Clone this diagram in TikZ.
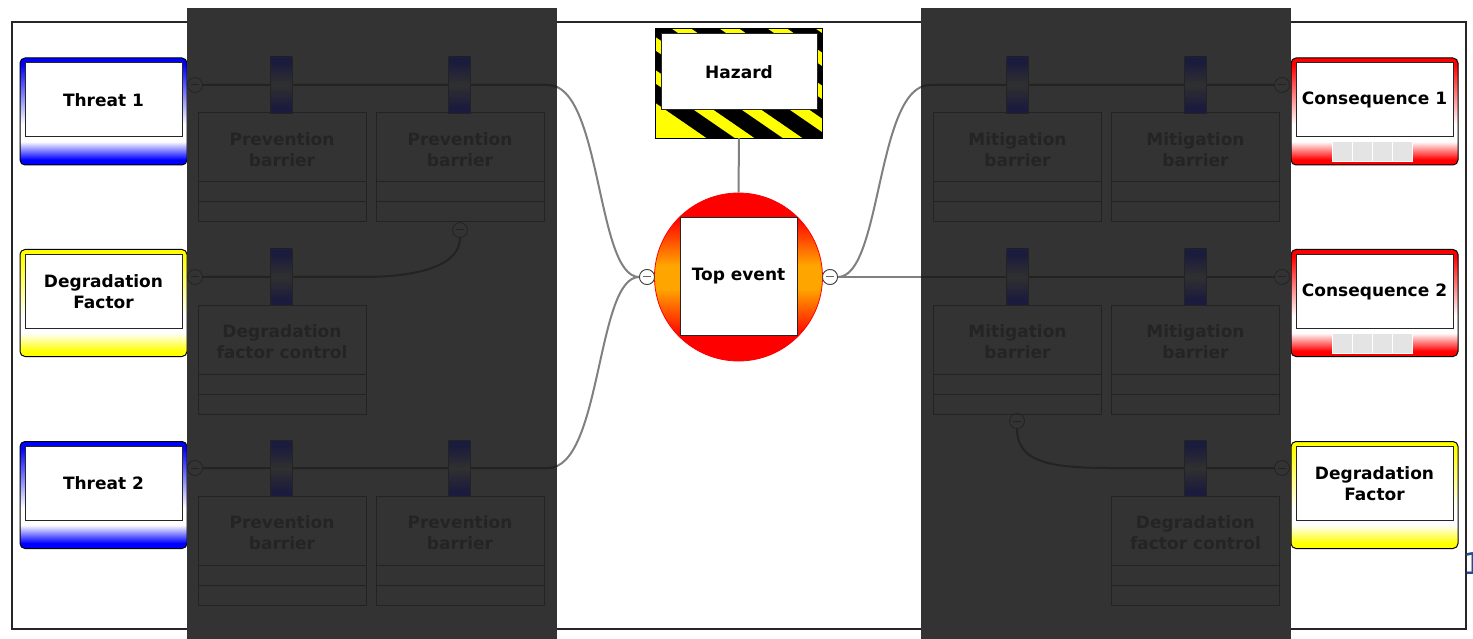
\documentclass[tikz,border=0pt]{standalone}
\usepackage{fontspec}
\setmainfont{DejaVu Sans}
\definecolor{panel}{HTML}{333333}
\definecolor{dk}{HTML}{232323}
\definecolor{dktext}{HTML}{242424}
\definecolor{navyd}{HTML}{1B1B3D}
\definecolor{tabmid}{HTML}{303030}
\definecolor{conn}{HTML}{808080}
\definecolor{hzy}{HTML}{FFFF00}
\definecolor{orng}{HTML}{FFA500}
\definecolor{oneblue}{HTML}{2A4A8F}
\definecolor{framec}{HTML}{262626}
\definecolor{barsq}{HTML}{E4E4E4}
\pgfdeclareverticalshading{threatsh}{100bp}{color(0bp)=(blue); color(27.5bp)=(blue); color(36bp)=(white); color(44bp)=(white); color(72bp)=(blue); color(100bp)=(blue)}
\pgfdeclareverticalshading{degsh}{100bp}{color(0bp)=(hzy); color(27.5bp)=(hzy); color(36bp)=(white); color(44bp)=(white); color(72bp)=(hzy); color(100bp)=(hzy)}
\pgfdeclareverticalshading{conssh}{100bp}{color(0bp)=(red); color(27.5bp)=(red); color(36bp)=(white); color(44bp)=(white); color(72bp)=(red); color(100bp)=(red)}
\pgfdeclareverticalshading{topsh}{100bp}{color(0bp)=(red); color(32.5bp)=(red); color(46.5bp)=(orng); color(53.5bp)=(orng); color(67.5bp)=(red); color(100bp)=(red)}
\pgfdeclareverticalshading{tabsh}{100bp}{color(0bp)=(navyd); color(30bp)=(navyd); color(50bp)=(tabmid); color(70bp)=(navyd); color(100bp)=(navyd)}
\tikzset{
  lbl/.style={font=\bfseries\fontsize{17}{21}\selectfont, align=center, inner sep=0pt},
  sidebox/.style={draw=black, line width=1pt, rounded corners=5pt, minimum width=167pt, minimum height=107pt, inner sep=0pt, shade, shading=#1},
  whitebox/.style={lbl, draw=black!85, line width=1pt, fill=white, minimum width=157pt, minimum height=74pt},
  barsquare/.style={draw=white, line width=0.8pt, fill=barsq, minimum width=20pt, minimum height=20pt, inner sep=0pt},
  conline/.style={draw=conn, line width=2pt},
  dkline/.style={draw=dk, line width=2pt},
  minusw/.style={circle, draw=black!75, fill=white, line width=0.8pt, minimum size=15pt, inner sep=0pt,
    path picture={\draw[black!60, line width=1pt] ([xshift=-4pt]path picture bounding box.center) -- ([xshift=4pt]path picture bounding box.center);}},
  minusd/.style={circle, draw=dk, fill=panel, line width=0.8pt, minimum size=15pt, inner sep=0pt,
    path picture={\draw[dk, line width=1pt] ([xshift=-4pt]path picture bounding box.center) -- ([xshift=4pt]path picture bounding box.center);}},
  tabbox/.style={draw=dk, line width=0.8pt, minimum width=22pt, minimum height=56pt, inner sep=0pt, shade, shading=tabsh},
  barrier/.style={draw=dk, line width=1pt, minimum width=168pt, minimum height=109pt, inner sep=0pt,
    path picture={
      \draw[dk, line width=1pt] ([yshift=-69pt]path picture bounding box.north west) -- ([yshift=-69pt]path picture bounding box.north east);
      \draw[dk, line width=1pt] ([yshift=-89pt]path picture bounding box.north west) -- ([yshift=-89pt]path picture bounding box.north east);}},
  btext/.style={lbl, text=dktext},
}
\newcommand\pathA{(mt1) -- (548,85) .. controls (602,85) and (596,277) .. (tel)}
\newcommand\pathB{(mt2) -- (548,468) .. controls (602,468) and (596,277) .. (tel)}
\newcommand\pathC{(md1) -- (362,277) .. controls (428,277) and (460,262) .. (mb2)}
\newcommand\pathD{(ter) .. controls (882,277) and (876,85) .. (930,85) -- (mc1)}
\newcommand\pathE{(ter) -- (mc2)}
\newcommand\pathF{(mm3) .. controls (1017,462) and (1050,468) .. (1110,468) -- (mc3)}
\begin{document}
\begin{tikzpicture}[x=1pt,y=-1pt]
\useasboundingbox (0,0) rectangle (1473,639);
\fill[white] (0,0) rectangle (1473,639);
% frame
\draw[framec, line width=1.6pt] (12,22) rectangle (1466,629);

% minus circles (placed first so connectors can reference them)
\node[minusd] (mt1) at (195,85) {};
\node[minusd] (md1) at (195,277) {};
\node[minusd] (mt2) at (195,468) {};
\node[minusd] (mb2) at (460,230) {};
\node[minusd] (mc1) at (1282,85) {};
\node[minusd] (mc2) at (1282,277) {};
\node[minusd] (mc3) at (1282,468) {};
\node[minusd] (mm3) at (1017,421) {};
\node[minusw] (tel) at (647,277) {};
\node[minusw] (ter) at (830,277) {};

% top event and hazard
\node[circle, draw=red, line width=0.8pt, minimum size=168pt, inner sep=0pt, shade, shading=topsh] (top) at (738.5,277) {};
\node[whitebox, minimum width=117pt, minimum height=117pt] (topin) at (738.5,276.5) {Top event};

\node[minimum width=167pt, minimum height=109pt, inner sep=0pt, fill=hzy] (hazard) at (739,83.5) {};
\begin{scope}
  \clip (hazard.south west) rectangle (hazard.north east);
  \foreach \k in {0,...,8} {
    \fill[black] (548+48*\k,29) -- (576+48*\k,29) -- (576+48*\k+160,139) -- (548+48*\k+160,139) -- cycle;
  }
\end{scope}
\draw[black, line width=1pt] (hazard.south west) rectangle (hazard.north east);
\node[whitebox, minimum width=156pt, minimum height=76pt] (hazin) at (739,72) {Hazard};
\draw[conline] (hazard.south) -- (top.north);

% gray connectors
\draw[conline] \pathA;
\draw[conline] \pathB;
\draw[conline] \pathD;
\draw[conline] \pathE;
\node[minusw] at (tel) {};
\node[minusw] at (ter) {};

% side boxes
\node[sidebox=threatsh] (t1) at (103.5,111.5) {};
\node[whitebox] (t1in) at (103.5,100) {Threat 1};
\node[sidebox=degsh] (d1) at (103.5,303) {};
\node[whitebox] (d1in) at (103.5,291.5) {Degradation\\Factor};
\node[sidebox=threatsh] (t2) at (103.5,495) {};
\node[whitebox] (t2in) at (103.5,483.5) {Threat 2};

\node[sidebox=conssh] (c1) at (1374.5,111.5) {};
\node[whitebox] (c1in) at (1374.5,100) {Consequence 1};
\node[sidebox=conssh] (c2) at (1374.5,303) {};
\node[whitebox] (c2in) at (1374.5,291.5) {Consequence 2};
\node[sidebox=degsh] (d2) at (1374.5,495) {};
\node[whitebox] (d2in) at (1374.5,483.5) {Degradation\\Factor};

\foreach \n/\yy in {a/151.5, b/343} {
  \node[barsquare] (sq\n1) at (1342,\yy) {};
  \node[barsquare] (sq\n2) at (1362,\yy) {};
  \node[barsquare] (sq\n3) at (1382.5,\yy) {};
  \node[barsquare] (sq\n4) at (1402,\yy) {};
}

% dark panels
\fill[panel] (187,8) rectangle (557,639);
\fill[panel] (921,8) rectangle (1291,639);

\begin{scope}
  \clip (187,8) rectangle (557,639) (921,8) rectangle (1291,639);
  \draw[dkline] \pathA;
  \draw[dkline] \pathB;
  \draw[dkline] \pathD;
  \draw[dkline] \pathE;
\end{scope}
\draw[dkline] \pathC;
\draw[dkline] \pathF;

% minus circles inside panels (redraw on top)
\foreach \m in {mt1,md1,mt2,mb2,mc1,mc2,mc3,mm3} { \node[minusd] at (\m) {}; }

% left panel barriers
\node[barrier] (p1) at (282,167.5) {};
\node[btext] (p1t) at ([yshift=-37pt]p1.north) {Prevention\\barrier};
\node[tabbox] (p1tab) at (281,85) {};
\node[barrier] (p2) at (460,167.5) {};
\node[btext] (p2t) at ([yshift=-37pt]p2.north) {Prevention\\barrier};
\node[tabbox] (p2tab) at (459.5,85) {};

\node[barrier] (dc1) at (282,359.5) {};
\node[btext] (dc1t) at ([yshift=-37pt]dc1.north) {Degradation\\factor control};
\node[tabbox] (dc1tab) at (281,277) {};

\node[barrier] (p3) at (282,551) {};
\node[btext] (p3t) at ([yshift=-37pt]p3.north) {Prevention\\barrier};
\node[tabbox] (p3tab) at (281,468.5) {};
\node[barrier] (p4) at (460,551) {};
\node[btext] (p4t) at ([yshift=-37pt]p4.north) {Prevention\\barrier};
\node[tabbox] (p4tab) at (459.5,468.5) {};

% right panel barriers
\node[barrier] (m1) at (1017.5,167.5) {};
\node[btext] (m1t) at ([yshift=-37pt]m1.north) {Mitigation\\barrier};
\node[tabbox] (m1tab) at (1017.5,85) {};
\node[barrier] (m2) at (1195.5,167.5) {};
\node[btext] (m2t) at ([yshift=-37pt]m2.north) {Mitigation\\barrier};
\node[tabbox] (m2tab) at (1195.5,85) {};

\node[barrier] (m3) at (1017.5,359.5) {};
\node[btext] (m3t) at ([yshift=-37pt]m3.north) {Mitigation\\barrier};
\node[tabbox] (m3tab) at (1017.5,277) {};
\node[barrier] (m4) at (1195.5,359.5) {};
\node[btext] (m4t) at ([yshift=-37pt]m4.north) {Mitigation\\barrier};
\node[tabbox] (m4tab) at (1195.5,277) {};

\node[barrier] (dc2) at (1195.5,551) {};
\node[btext] (dc2t) at ([yshift=-37pt]dc2.north) {Degradation\\factor control};
\node[tabbox] (dc2tab) at (1195.5,468.5) {};

% stray digit at the right edge
\node[anchor=west, inner sep=0pt, text=oneblue, font=\fontsize{30}{30}\selectfont] (one) at (1463,564) {1};
\end{tikzpicture}
\end{document}
